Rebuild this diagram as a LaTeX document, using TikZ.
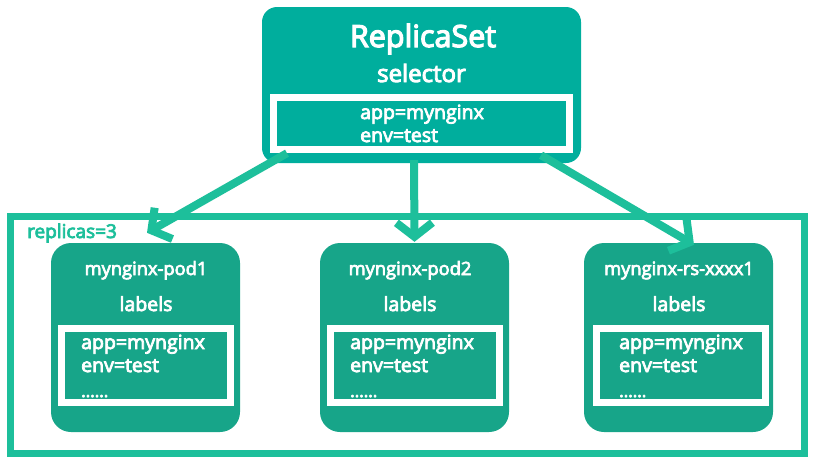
\documentclass[tikz,border=0pt]{standalone}
\usepackage{fontspec}
\setmainfont{Open Sans}[FakeBold=4]
\usetikzlibrary{arrows.meta}
\definecolor{rsfill}{HTML}{00AE9D}
\definecolor{linec}{HTML}{1DBF9B}
\definecolor{podfill}{HTML}{17A589}
\tikzset{
  rsbox/.style={draw=none, fill=rsfill, rounded corners=15pt, minimum width=319pt, minimum height=156pt, inner sep=0pt},
  podbox/.style={draw=none, fill=podfill, rounded corners=20pt, minimum width=189pt, minimum height=189pt, inner sep=0pt},
  whitebox/.style={draw=white, line width=7pt, minimum width=#1, minimum height=74pt, inner sep=0pt},
  txt/.style={text=white, inner sep=0pt, font=\fontsize{19.5}{22}\selectfont},
  podtitle/.style={text=white, inner sep=0pt, anchor=base, font=\fontsize{18.3}{21}\selectfont},
  conn/.style={draw=linec, line width=8pt, -{Straight Barb[length=14pt,width=36pt,line join=miter,line cap=butt]}},
}
\begin{document}
\begin{tikzpicture}[x=1pt,y=-1pt]
\useasboundingbox (0,0) rectangle (818,464);
% outer replicas frame
\node[draw=linec, line width=7pt, minimum width=794pt, minimum height=237pt, inner sep=0pt] (frame) at (407.5,334.5) {};
\node[anchor=base west, inner sep=0pt, text=linec, font=\fontsize{19}{22}\selectfont] (rep) at (27,238) {replicas=3};
% replicaset
\node[rsbox] (rs) at (421.5,85) {};
\node[draw=white, line width=7pt, minimum width=296pt, minimum height=52pt, inner sep=0pt] (rsin) at (421.5,123.5) {};
\node[anchor=base, text=white, inner sep=0pt, font=\fontsize{30.5}{34}\selectfont] (rstitle) at (423,47) {ReplicaSet};
\node[anchor=base, text=white, inner sep=0pt, font=\fontsize{24}{28}\selectfont] (rssel) at (421.5,82) {selector};
\node[txt, anchor=base west] (rsapp) at (360,119) {app=mynginx};
\node[txt, anchor=base west] (rsenv) at (360,142) {env=test};
% pods
\foreach \n/\cx/\tx/\ax/\ix/\t in {1/145.5/146/81/146/mynginx-pod1, 2/414.5/410/350/414.5/mynginx-pod2, 3/678.5/679/619/681/mynginx-rs-xxxx1}{
  \node[podbox] (pod\n) at (\cx,337.5) {};
  \node[whitebox=169pt] (podin\n) at (\ix,365.5) {};
  \node[podtitle] (podt\n) at (\tx,275) {\t};
  \node[txt, anchor=base] (podl\n) at (\tx,311) {labels};
  \node[txt, anchor=base west] (poda\n) at (\ax,349) {app=mynginx};
  \node[txt, anchor=base west] (pode\n) at (\ax,372) {env=test};
  \node[txt, anchor=base west, font=\fontsize{17}{20}\selectfont] (podd\n) at (\ax,397) {......};
}
% arrows
\draw[conn] ([xshift=-134.5pt,yshift=10pt]rs.south) -- ([xshift=1.5pt,yshift=10pt]pod1.north);
\draw[conn] ([xshift=-7.5pt,yshift=3pt]rs.south) -- ([yshift=1pt]pod2.north);
\draw[conn] ([xshift=119.5pt,yshift=8pt]rs.south) -- ([xshift=15.5pt,yshift=-2pt]pod3.north);
\end{tikzpicture}
\end{document}
